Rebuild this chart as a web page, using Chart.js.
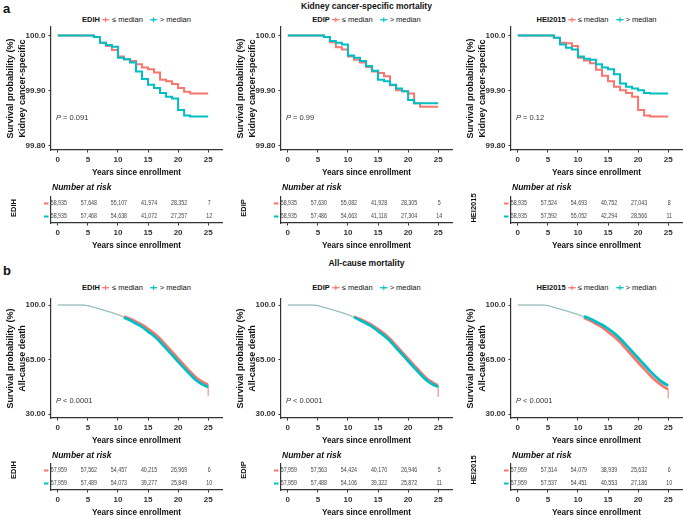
<!DOCTYPE html>
<html>
<head>
<meta charset="utf-8">
<script src="https://cdn.jsdelivr.net/npm/chart.js@4.4.1/dist/chart.umd.min.js"></script>
<style>
  html, body { margin: 0; background: #fff; overflow: hidden; }
  #fig { position: relative; width: 683px; height: 521px; overflow: hidden;
         font-family: "Liberation Sans", Arial, Helvetica, sans-serif; color: #111; }
  #fig canvas { position: absolute; }
  .t { position: absolute; white-space: nowrap; line-height: 1; }
</style>
</head>
<body>
<div id="fig"></div>
<script>
// ---- data ----
const years = [0,1,2,3,4,5,6,7,8,9,10,11,12,13,14,15,16,17,18,19,20,21,22,23,24,25];
const xTicks = [0, 5, 10, 15, 20, 25];
const groups = ["EDIH", "EDIP", "HEI2015"];

// kidney cancer-specific survival (%), <= median / > median
const kcEDIH_low  = [100,100,100,100,100,100,99.9976,99.987,99.981,99.974,99.962,99.957,99.954,99.948,99.942,99.939,99.933,99.920,99.917,99.912,99.905,99.898,99.895,99.895,99.895,99.895];
const kcEDIH_high = [100,100,100,100,100,100,99.9976,99.987,99.983,99.980,99.960,99.957,99.951,99.935,99.921,99.911,99.905,99.896,99.889,99.886,99.865,99.855,99.853,99.853,99.853,99.853];
const kcEDIP_low  = [100,100,100,100,100,100,99.9976,99.988,99.979,99.975,99.962,99.956,99.951,99.943,99.935,99.932,99.926,99.910,99.901,99.899,99.895,99.877,99.871,99.871,99.871,99.871];
const kcEDIP_high = [100,100,100,100,100,100,99.9976,99.990,99.987,99.984,99.964,99.960,99.954,99.945,99.936,99.920,99.917,99.911,99.904,99.899,99.883,99.877,99.877,99.877,99.877,99.877];
const kcHEI_low   = [100,100,100,100,100,100,99.996,99.987,99.986,99.981,99.960,99.955,99.950,99.938,99.927,99.917,99.907,99.901,99.896,99.889,99.865,99.855,99.853,99.853,99.853,99.853];
const kcHEI_high  = [100,100,100,100,100,100,99.996,99.984,99.978,99.975,99.962,99.958,99.956,99.948,99.942,99.939,99.930,99.913,99.907,99.904,99.901,99.896,99.895,99.895,99.895,99.895];

// all-cause survival (%), <= median / > median
const acEDIH_low  = [100,100,100,100,100,99.6,98.5,97.5,96.4,95.3,94.1,92.6,91.1,89.2,87.3,84.7,81.8,78.4,74.1,69.9,65.6,61.4,57.2,53.4,50.8,49.1];
const acEDIH_high = [100,100,100,100,100,99.6,98.5,97.4,96.2,95.0,93.7,92.0,90.2,88.1,86.0,83.0,80.1,76.5,72.2,68.0,63.7,59.5,55.5,51.7,49.1,47.4];
const acEDIP_low  = [100,100,100,100,100,99.6,98.5,97.5,96.4,95.3,94.0,92.5,91.0,89.1,87.1,84.5,81.6,78.2,74.0,69.8,65.5,61.3,57.1,53.2,50.4,48.6];
const acEDIP_high = [100,100,100,100,100,99.6,98.5,97.4,96.2,95.0,93.7,92.1,90.3,88.3,86.2,83.3,80.4,76.9,72.6,68.4,64.1,59.9,55.8,52.0,49.3,47.5];
const acHEI_low   = [100,100,100,100,100,99.6,98.5,97.4,96.2,94.9,93.6,91.9,90.1,88.0,85.8,82.8,79.8,76.2,71.9,67.6,63.3,59.0,55.0,51.3,48.3,46.2];
const acHEI_high  = [100,100,100,100,100,99.6,98.5,97.5,96.4,95.3,94.1,92.7,91.2,89.3,87.4,84.8,82.0,78.6,74.4,70.2,66.0,61.8,57.6,53.8,50.6,48.3];
const acEnd_low  = [41.5, 41, 40];   // last drop at year 25

const kcTicks = [99.8, 99.9, 100];
const kcTickLabels = ["99.80", "99.90", "100.0"];
const acTicks = [30, 65, 100];
const acTickLabels = ["30.00", "65.00", "100.0"];

const pKidney = ["= 0.091", "= 0.99", "= 0.12"];
const pAll = ["< 0.0001", "< 0.0001", "< 0.0001"];

// number at risk
const nkEDIH_low  = [58935, 57648, 55107, 41974, 28352, 7];
const nkEDIH_high = [58935, 57468, 54638, 41072, 27257, 12];
const nkEDIP_low  = [58935, 57630, 55082, 41928, 28305, 5];
const nkEDIP_high = [58935, 57486, 54663, 41118, 27304, 14];
const nkHEI_low   = [58935, 57524, 54693, 40752, 27043, 8];
const nkHEI_high  = [58935, 57592, 55052, 42294, 28566, 11];
const naEDIH_low  = [57959, 57562, 54457, 40215, 26969, 6];
const naEDIH_high = [57959, 57489, 54073, 39277, 25849, 10];
const naEDIP_low  = [57959, 57563, 54424, 40170, 26946, 5];
const naEDIP_high = [57959, 57488, 54106, 39322, 25872, 11];
const naHEI_low   = [57959, 57514, 54079, 38939, 25632, 6];
const naHEI_high  = [57959, 57537, 54451, 40553, 27186, 10];

// ---- layout / style ----
const RED = "#F8766D", TEAL = "#00BFC4", AXIS = "#333";
const colX = [0, 230, 460];
const FONT = '"Liberation Sans", Arial, Helvetica, sans-serif';
Chart.defaults.font.family = FONT;
Chart.defaults.color = AXIS;

const fig = document.getElementById("fig");

function addCanvas(left, top, w, h) {
  const cv = document.createElement("canvas");
  cv.width = w; cv.height = h;
  cv.style.left = left + "px"; cv.style.top = top + "px";
  fig.appendChild(cv);
  return cv;
}

function text(html, x, y, css, mode) {
  const d = document.createElement("div");
  d.className = "t";
  d.innerHTML = html;
  d.style.cssText += css;
  d.style.left = x + "px";
  d.style.top = y + "px";
  if (mode === "center") d.style.transform = "translate(-50%,-50%)";
  else if (mode === "rot") d.style.transform = "translate(-50%,-50%) rotate(-90deg)";
  else d.style.transform = "translateY(-50%)";
  fig.appendChild(d);
}

function fmt(n) { return String(n).replace(/\B(?=(\d{3})+(?!\d))/g, ","); }

function xScale(title) {
  return {
    type: "linear", min: -1.13, max: 27.3,
    afterBuildTicks: s => { s.ticks = xTicks.map(v => ({ value: v })); },
    afterFit: s => { s.height = 30; },
    border: { color: AXIS, width: 1.2 },
    grid: { display: true, drawOnChartArea: false, tickLength: 2.5, color: AXIS },
    ticks: { font: { size: 8, weight: "bold" }, color: AXIS, padding: 2, maxRotation: 0, autoSkip: false },
    title: { display: true, text: title, color: "#111", font: { size: 8.2, weight: "bold" }, padding: { top: 0, bottom: 2 } }
  };
}

function kmChart(c, row, low, high, endLow, ticks, tickLabels, yTitle, yMin, yMax) {
  const top = row === 0 ? 25 : 297, bottom = row === 0 ? 150 : 418;
  const cv = addCanvas(colX[c], top - 6, 226, bottom - top + 6 + 30);
  const stepped = row === 0;
  const mk = (vals, end, color) => {
    const pts = years.map((t, i) => ({ x: t, y: vals[i] }));
    if (end != null) pts.push({ x: 25, y: end });
    return {
      data: pts, borderColor: color, pointRadius: 0, fill: false,
      borderWidth: stepped ? 2 : 2.8,
      stepped: stepped,
      cubicInterpolationMode: stepped ? "default" : "monotone",
      segment: stepped ? undefined : {
        borderWidth: ctx => ctx.p1.parsed.x <= 11.6 ? 1 : (ctx.p0.parsed.x === ctx.p1.parsed.x ? 1 : 2.8),
        borderColor: ctx => ctx.p1.parsed.x <= 11.6 ? color + "88" : color
      }
    };
  };
  new Chart(cv, {
    type: "line",
    data: { datasets: [mk(high, null, TEAL), mk(low, endLow, RED)] },
    options: {
      responsive: false, animation: false, events: [],
      layout: { padding: { top: 6, right: 4, left: 0, bottom: 0 } },
      plugins: { legend: { display: false }, tooltip: { enabled: false } },
      scales: {
        x: xScale("Years since enrollment"),
        y: {
          min: yMin, max: yMax,
          afterBuildTicks: s => { s.ticks = ticks.map(v => ({ value: v })); },
          afterFit: s => { s.width = 51; },
          border: { color: AXIS, width: 1.2 },
          grid: { display: true, drawOnChartArea: false, tickLength: 2.5, color: AXIS },
          ticks: { font: { size: 8, weight: "bold" }, color: AXIS, padding: 3,
                   callback: v => tickLabels[ticks.indexOf(v)] },
          title: { display: true, text: ["Survival probability (%)", yTitle], color: "#111",
                   font: { size: 9, weight: "bold", lineHeight: 1.4 }, padding: { top: 4, bottom: 0 } }
        }
      }
    }
  });
}

function riskTable(c, row, low, high) {
  const top = row === 0 ? 197 : 464, bottom = row === 0 ? 223 : 490;
  const cv = addCanvas(colX[c], top - 2, 226, bottom - top + 2 + 30);
  new Chart(cv, {
    type: "scatter",
    data: { datasets: [] },
    options: {
      responsive: false, animation: false, events: [],
      layout: { padding: { top: 2, right: 4, left: 0, bottom: 0 } },
      plugins: { legend: { display: false }, tooltip: { enabled: false } },
      scales: {
        x: xScale("Years since enrollment"),
        y: {
          type: "linear", min: 0, max: 2, reverse: true,
          afterFit: s => { s.width = 51; },
          border: { color: AXIS, width: 1.2 },
          grid: { display: false },
          ticks: { display: false }
        }
      }
    },
    plugins: [{
      id: "riskNumbers",
      afterDraw(chart) {
        const { ctx, scales: { x, y }, chartArea } = chart;
        ctx.save();
        ctx.textAlign = "center";
        ctx.textBaseline = "middle";
        ctx.font = "6.8px " + FONT;
        [low, high].forEach((vals, i) => {
          const py = y.getPixelForValue(i + 0.5);
          ctx.fillStyle = i === 0 ? RED : TEAL;
          ctx.fillRect(chartArea.left - 7, py - 1, 4.5, 2);
          ctx.fillStyle = "#444";
          vals.forEach((n, j) => {
            ctx.save();
            ctx.translate(x.getPixelForValue(xTicks[j]) + 1, py);
            ctx.scale(0.78, 1);
            ctx.fillText(fmt(n), 0, 0);
            ctx.restore();
          });
        });
        ctx.restore();
      }
    }]
  });
}

function key(color) {
  return '<svg width="8" height="7" style="vertical-align:-1px;margin:0 2px 0 2px">' +
    '<line x1="0" y1="3.5" x2="8" y2="3.5" stroke="' + color + '" stroke-width="1.2"/>' +
    '<path d="M4 1V6M1.5 3.5H6.5" stroke="' + color + '" stroke-width="1"/></svg>';
}

function legend(c, y, group) {
  const cx = colX[c] + (51 + 222) / 2;
  text('<b>' + group + '</b>' + key(RED) + '≤ median<span style="display:inline-block;width:5px"></span>' +
       key(TEAL) + '&gt; median', cx, y, "font-size:7.5px;color:#111;", "center");
}

// ---- build ----
const kc = [[kcEDIH_low, kcEDIH_high], [kcEDIP_low, kcEDIP_high], [kcHEI_low, kcHEI_high]];
const ac = [[acEDIH_low, acEDIH_high], [acEDIP_low, acEDIP_high], [acHEI_low, acHEI_high]];
const nk = [[nkEDIH_low, nkEDIH_high], [nkEDIP_low, nkEDIP_high], [nkHEI_low, nkHEI_high]];
const na = [[naEDIH_low, naEDIH_high], [naEDIP_low, naEDIP_high], [naHEI_low, naHEI_high]];

text("a", 3, 8, "font-size:13px;font-weight:bold;");
text("b", 3, 270, "font-size:13px;font-weight:bold;");
text("Kidney cancer-specific mortality", colX[1] + 136.5, 6, "font-size:8.5px;font-weight:bold;", "center");
text("All-cause mortality", colX[1] + 136.5, 263, "font-size:8.5px;font-weight:bold;", "center");

for (let c = 0; c < 3; c++) {
  legend(c, 19.5, groups[c]);
  legend(c, 288.3, groups[c]);

  kmChart(c, 0, kc[c][0], kc[c][1], null, kcTicks, kcTickLabels, "Kidney cancer-specific", 99.7923, 100.016);
  kmChart(c, 1, ac[c][0], ac[c][1], acEnd_low[c], acTicks, acTickLabels, "All-cause death", 27.5, 104);

  text("<i>P</i> " + pKidney[c], colX[c] + 56, 117.7, "font-size:7.5px;color:#333;");
  text("<i>P</i> " + pAll[c], colX[c] + 56, 400.7, "font-size:7.5px;color:#333;");

  text("<b><i>Number at risk</i></b>", colX[c] + 52, 187.3, "font-size:8.5px;color:#111;");
  text("<b><i>Number at risk</i></b>", colX[c] + 52, 455.3, "font-size:8.5px;color:#111;");
  text("<b>" + groups[c] + "</b>", colX[c] + 14, 208, "font-size:7.5px;color:#111;", "rot");
  text("<b>" + groups[c] + "</b>", colX[c] + 14, 470, "font-size:7.5px;color:#111;", "rot");

  riskTable(c, 0, nk[c][0], nk[c][1]);
  riskTable(c, 1, na[c][0], na[c][1]);
}
</script>
</body>
</html>
